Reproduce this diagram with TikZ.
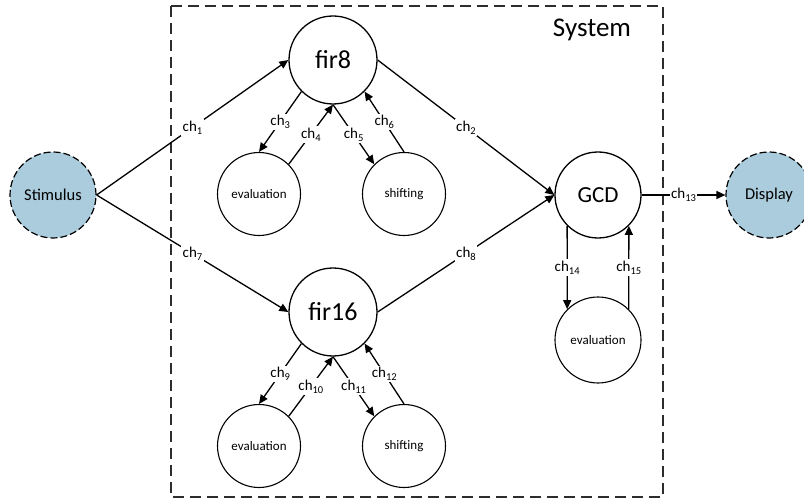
\documentclass[tikz,border=0pt]{standalone}
\usepackage{fontspec}
\setmainfont{Carlito}
\usetikzlibrary{arrows.meta}
\definecolor{iofill}{RGB}{170,204,220}
\definecolor{boxline}{RGB}{45,45,45}
\newcommand{\chanlabel}[1]{ch\raisebox{-0.4ex}{\fontsize{10.5}{11}\selectfont #1}}
\begin{document}
\begin{tikzpicture}[x=1pt,y=-1pt,
  proc/.style={circle,draw,line width=1.3pt,inner sep=0pt,minimum size=88pt,font=\fontsize{26}{28}\selectfont},
  gcdproc/.style={proc,minimum size=86pt,font=\fontsize{23}{25}\selectfont},
  subproc/.style={circle,draw,line width=1.1pt,inner sep=0pt,minimum size=83pt,font=\fontsize{13}{15}\selectfont},
  io/.style={circle,draw,dash pattern=on 7pt off 3pt,line width=1.2pt,fill=iofill,minimum size=86pt,inner sep=0pt,font=\fontsize{16.5}{18}\selectfont},
  conn/.style={line width=1.3pt,-{Triangle[length=9pt,width=8pt]}},
  lbl/.style={fill=white,inner sep=1.5pt,font=\fontsize{15}{16}\selectfont},
]
\clip (0,0) rectangle (804,500);
\useasboundingbox (0,0) rectangle (804,500);

% system boundary
\draw[boxline,line width=1.4pt,dash pattern=on 11pt off 6pt] (171,6) rectangle (663,497);
\node[font=\fontsize{27}{29}\selectfont] (systitle) at (592,30) {System};

% environment
\node[io] (stim) at (53,195) {Stimulus};
\node[io] (disp) at (769,195) {Display};

% processes
\node[proc] (fir8) at (333,60) {fir8};
\node[proc] (fir16) at (333,312) {fir16};
\node[gcdproc] (gcd) at (598,195) {GCD};

\node[subproc] (evalA) at (259,194) {evaluation};
\node[subproc] (shiftA) at (404,194) {shifting};
\node[subproc] (evalB) at (259,446) {evaluation};
\node[subproc] (shiftB) at (404,446) {shifting};
\node[subproc,minimum size=86pt] (evalC) at (598,340) {evaluation};

% main channels
\draw[conn] (stim.east) -- node[lbl]{\chanlabel{1}} (fir8.west);
\draw[conn] (stim.east) -- node[lbl]{\chanlabel{7}} (fir16.west);
\draw[conn] (fir8.east) -- node[lbl]{\chanlabel{2}} (gcd.west);
\draw[conn] (fir16.east) -- node[lbl]{\chanlabel{8}} (gcd.west);
\draw[conn] (gcd.east) -- node[lbl]{\chanlabel{13}} (disp.west);

% fir8 helpers
\draw[conn] (fir8.south west) -- node[lbl]{\chanlabel{3}} (evalA.north);
\draw[conn] (evalA.north east) -- node[lbl]{\chanlabel{4}} (fir8.south);
\draw[conn] (fir8.south) -- node[lbl]{\chanlabel{5}} (shiftA.north west);
\draw[conn] (shiftA.north) -- node[lbl]{\chanlabel{6}} (fir8.south east);

% fir16 helpers
\draw[conn] (fir16.south west) -- node[lbl]{\chanlabel{9}} (evalB.north);
\draw[conn] (evalB.north east) -- node[lbl]{\chanlabel{10}} (fir16.south);
\draw[conn] (fir16.south) -- node[lbl]{\chanlabel{11}} (shiftB.north west);
\draw[conn] (shiftB.north) -- node[lbl]{\chanlabel{12}} (fir16.south east);

% GCD helper
\draw[conn] (gcd.south west) -- node[lbl]{\chanlabel{14}} (evalC.north west);
\draw[conn] (evalC.north east) -- node[lbl]{\chanlabel{15}} (gcd.south east);
\end{tikzpicture}
\end{document}
